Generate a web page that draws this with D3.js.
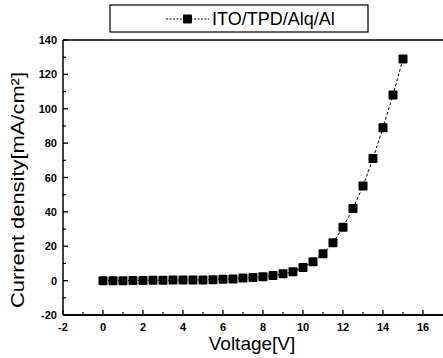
<!DOCTYPE html>
<html>
<head>
<meta charset="utf-8">
<script src="https://cdn.jsdelivr.net/npm/d3@7"></script>
<style>
  body { margin: 0; background: #fff; }
  text { font-family: "Liberation Sans", Arial, sans-serif; }
</style>
</head>
<body>
<div id="chart"></div>
<script>
(function() {
    var width = 443,
        height = 358;

    // data
    var voltage = [0, 0.5, 1, 1.5, 2, 2.5, 3, 3.5, 4, 4.5, 5, 5.5, 6, 6.5, 7, 7.5, 8, 8.5,
        9, 9.5, 10, 10.5, 11, 11.5, 12, 12.5, 13, 13.5, 14, 14.5, 15]
    var current = [0, 0, 0, 0.1, 0.1, 0.2, 0.2, 0.3, 0.3, 0.4, 0.4, 0.5, 0.8, 1, 1.5, 1.8, 2.3, 3,
        4, 5.2, 7.6, 11, 15.7, 22, 31, 42, 55, 71, 89, 108, 129]
    var xTicks = [-2, 0, 2, 4, 6, 8, 10, 12, 14, 16]
    var yTicks = [-20, 0, 20, 40, 60, 80, 100, 120, 140]
    var seriesName = "ITO/TPD/Alq/Al"

    var points = voltage.map(function(v, i) { return { x: v, y: current[i] } })

    var svg = d3.select("#chart")
        .append("svg")
        .attr("width", width)
        .attr("height", height)

    var x = d3.scaleLinear().domain([-2, 17]).range([63, 443])
    var y = d3.scaleLinear().domain([-20, 140]).range([315, 40])

    // frame lines
    svg.append("line")
        .attr("x1", x(-2)).attr("x2", x(17))
        .attr("y1", y(-20)).attr("y2", y(-20))
        .attr("stroke", "#000").attr("stroke-width", 2)
    svg.append("line")
        .attr("x1", x(-2)).attr("x2", x(17))
        .attr("y1", y(140)).attr("y2", y(140))
        .attr("stroke", "#000").attr("stroke-width", 1.5)
    svg.append("line")
        .attr("x1", x(-2)).attr("x2", x(-2))
        .attr("y1", y(-20)).attr("y2", y(140))
        .attr("stroke", "#000").attr("stroke-width", 1.5)

    // x ticks (inside)
    var xMinor = d3.range(-1, 17, 2)
    svg.selectAll(".xt")
        .data(xTicks)
        .enter().append("line")
        .attr("x1", function(d) { return x(d) }).attr("x2", function(d) { return x(d) })
        .attr("y1", y(-20)).attr("y2", y(-20) - 5)
        .attr("stroke", "#000").attr("stroke-width", 1.3)
    svg.selectAll(".xm")
        .data(xMinor)
        .enter().append("line")
        .attr("x1", function(d) { return x(d) }).attr("x2", function(d) { return x(d) })
        .attr("y1", y(-20)).attr("y2", y(-20) - 3)
        .attr("stroke", "#000").attr("stroke-width", 1.2)
    svg.selectAll(".xl")
        .data(xTicks)
        .enter().append("text")
        .attr("x", function(d) { return x(d) })
        .attr("y", 331)
        .attr("text-anchor", "middle")
        .attr("font-size", 11)
        .attr("font-weight", "bold")
        .text(function(d) { return d })

    // y ticks (inside)
    var yMinor = d3.range(-10, 140, 20)
    svg.selectAll(".yt")
        .data(yTicks)
        .enter().append("line")
        .attr("x1", x(-2)).attr("x2", x(-2) + 5)
        .attr("y1", function(d) { return y(d) }).attr("y2", function(d) { return y(d) })
        .attr("stroke", "#000").attr("stroke-width", 1.3)
    svg.selectAll(".ym")
        .data(yMinor)
        .enter().append("line")
        .attr("x1", x(-2)).attr("x2", x(-2) + 3)
        .attr("y1", function(d) { return y(d) }).attr("y2", function(d) { return y(d) })
        .attr("stroke", "#000").attr("stroke-width", 1.2)
    svg.selectAll(".yl")
        .data(yTicks)
        .enter().append("text")
        .attr("x", 57)
        .attr("y", function(d) { return y(d) + 4 })
        .attr("text-anchor", "end")
        .attr("font-size", 11)
        .attr("font-weight", "bold")
        .text(function(d) { return d })

    // dashed line + markers
    var line = d3.line()
        .x(function(d) { return x(d.x) })
        .y(function(d) { return y(d.y) })
    svg.append("path")
        .datum(points)
        .attr("d", line)
        .attr("fill", "none")
        .attr("stroke", "#000")
        .attr("stroke-width", 1)
        .attr("stroke-dasharray", "3,2")

    svg.selectAll(".pt")
        .data(points)
        .enter().append("rect")
        .attr("x", function(d) { return x(d.x) - 4.5 })
        .attr("y", function(d) { return y(d.y) - 4.5 })
        .attr("width", 9)
        .attr("height", 9)
        .attr("rx", 1)
        .attr("fill", "#000")

    // axis titles
    svg.append("text")
        .attr("x", 252)
        .attr("y", 350)
        .attr("text-anchor", "middle")
        .attr("font-size", 19)
        .text("Voltage[V]")
    svg.append("text")
        .attr("transform", "translate(24,308) rotate(-90)")
        .attr("text-anchor", "start")
        .attr("font-size", 19)
        .attr("textLength", 236)
        .attr("lengthAdjust", "spacingAndGlyphs")
        .text("Current density[mA/cm²]")

    // legend
    var lg = svg.append("g")
    lg.append("rect")
        .attr("x", 110).attr("y", 5)
        .attr("width", 258).attr("height", 27)
        .attr("fill", "#fff")
        .attr("stroke", "#000").attr("stroke-width", 1.2)
    lg.append("line")
        .attr("x1", 166).attr("x2", 209)
        .attr("y1", 19).attr("y2", 19)
        .attr("stroke", "#000").attr("stroke-dasharray", "2,1.5")
    lg.append("rect")
        .attr("x", 183).attr("y", 14.5)
        .attr("width", 9).attr("height", 9)
        .attr("rx", 1)
        .attr("fill", "#000")
    lg.append("text")
        .attr("x", 212).attr("y", 25)
        .attr("font-size", 18)
        .text(seriesName)
})();
</script>
</body>
</html>
